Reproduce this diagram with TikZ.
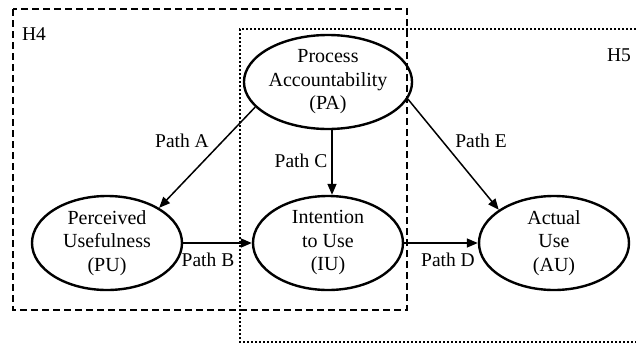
\documentclass[tikz,border=0pt]{standalone}
\usepackage{fontspec}
\setmainfont{Liberation Serif}
\usetikzlibrary{shapes.geometric,arrows.meta}
\begin{document}
\begin{tikzpicture}[x=1pt,y=-1pt,
  construct/.style={draw,ellipse,line width=2.4pt,minimum width=150pt,minimum height=94pt,inner sep=0pt,align=center,font=\fontsize{20}{23.5}\selectfont},
  pathlbl/.style={font=\fontsize{19.5}{22}\selectfont,inner sep=0pt},
  hyplbl/.style={font=\fontsize{19.5}{22}\selectfont,inner sep=0pt},
  conn/.style={line width=1.5pt,-{Triangle[length=11pt,width=9pt]}},
  h4box/.style={line width=2.5pt,dash pattern=on 7pt off 4pt},
  h5box/.style={line width=2pt,dash pattern=on 2pt off 2pt}]
\useasboundingbox (0,0) rectangle (636,343);
\fill[white] (0,0) rectangle (636,343);
% hypothesis boxes
\draw[h4box] (13,9) rectangle (407,310);
\draw[h5box] (640,29) -- (240,29) -- (240,342) -- (640,342);
\node[hyplbl] (h4) at (34,34) {H4};
\node[hyplbl] (h5) at (619,55) {H5};
% constructs
\node[construct] (PA) at (328,82) {Process\\Accountability\\(PA)};
\node[construct] (PU) at (107,243) {Perceived\\Usefulness\\(PU)};
\node[construct] (IU) at (328,243) {Intention\\to Use\\(IU)};
\node[construct] (AU) at (554,243) {Actual\\Use\\(AU)};
% paths
\draw[conn] (PA.199) -- (PU.34);
\draw[conn] (PU.east) -- (IU.west);
\draw[conn] ([xshift=4pt]PA.south) -- ([xshift=4pt]IU.north);
\draw[conn] (IU.east) -- (AU.west);
\draw[conn] (PA.-12) -- (AU.149);
% labels
\node[pathlbl] (la) at (182,141) {Path A};
\node[pathlbl] (lc) at (301,161) {Path C};
\node[pathlbl] (le) at (481,141) {Path E};
\node[pathlbl] (lb) at (208,260) {Path B};
\node[pathlbl] (ld) at (448,260) {Path D};
\end{tikzpicture}
\end{document}
